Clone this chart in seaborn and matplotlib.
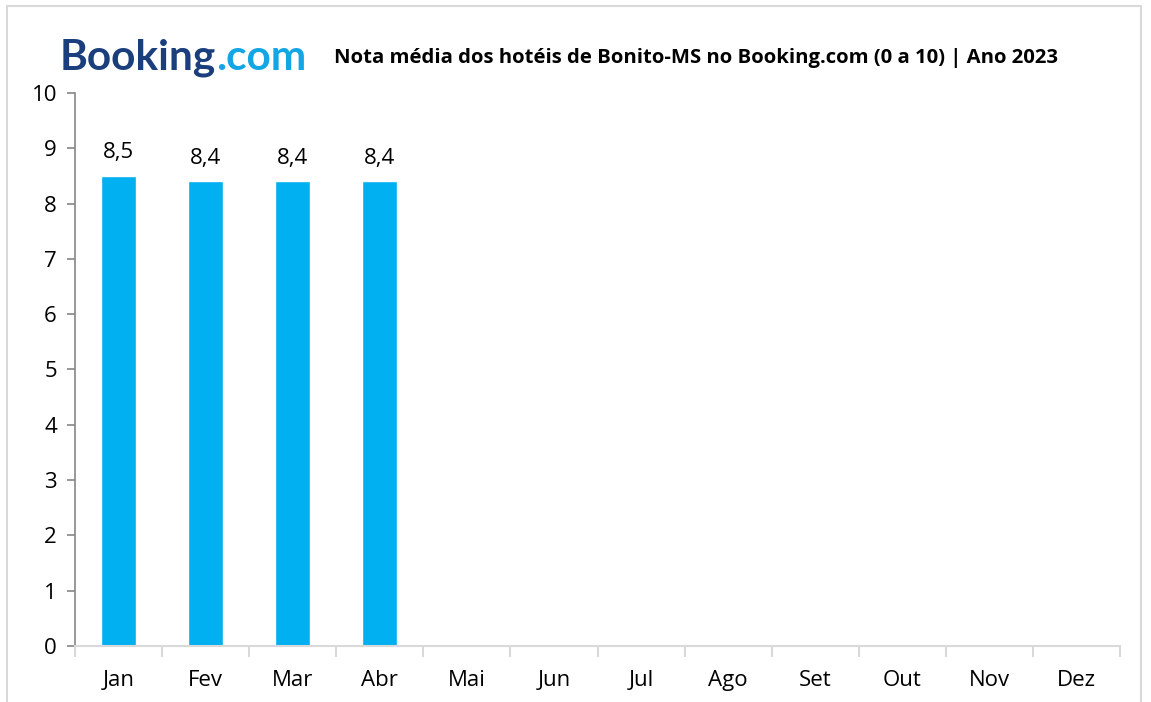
import seaborn as sns
import pandas as pd
import matplotlib.pyplot as plt
from matplotlib.patches import Rectangle

meses = ['Jan', 'Fev', 'Mar', 'Abr', 'Mai', 'Jun', 'Jul', 'Ago', 'Set', 'Out', 'Nov', 'Dez']
meses_com_nota = ['Jan', 'Fev', 'Mar', 'Abr']
notas = [8.5, 8.4, 8.4, 8.4]
titulo = 'Nota média dos hotéis de Bonito-MS no Booking.com (0 a 10) | Ano 2023'

df = pd.DataFrame({'Mes': meses_com_nota, 'Nota': notas})

sns.set_style('white')
plt.rcParams['font.family'] = ['Open Sans', 'DejaVu Sans']
plt.rcParams['text.color'] = 'black'
plt.rcParams['xtick.labelcolor'] = 'black'
plt.rcParams['ytick.labelcolor'] = 'black'

fig = plt.figure(figsize=(11.51, 7.02), dpi=100)
ax = fig.add_axes([0.0652, 0.0798, 0.9079, 0.7877])

sns.barplot(data=df, x='Mes', y='Nota', order=meses, color='#00B0F0',
            width=0.4, saturation=1, ax=ax)

# data labels
ax.bar_label(ax.containers[0], labels=[f'{v:.1f}'.replace('.', ',') for v in notas],
             padding=9, fontsize=16, color='black')

ax.set_ylim(0, 10)
ax.set_xlim(-0.5, 11.5)
ax.set_yticks(range(0, 11))
ax.set_xlabel('')
ax.set_ylabel('')

# axes style (Excel-like)
for s in ['top', 'right']:
    ax.spines[s].set_visible(False)
ax.spines['left'].set_color('#868686')
ax.spines['bottom'].set_color('#d9d9d9')
ax.spines['left'].set_linewidth(1.2)
ax.spines['bottom'].set_linewidth(1.5)
ax.tick_params(axis='y', length=6, width=1.2, color='#868686', labelsize=16,
               labelcolor='black', pad=7, left=True)
ax.tick_params(axis='x', which='major', length=0, labelsize=16, labelcolor='black', pad=17)
ax.set_xticks([i + 0.5 for i in range(-1, 12)], minor=True)
ax.tick_params(axis='x', which='minor', length=8, width=1.5, color='#d9d9d9', bottom=True)

# title
fig.text(0.2905, 0.918, titulo, fontsize=14.6, fontweight='bold', color='black',
         va='center', ha='left')

# logo text
t1 = fig.text(0.052, 0.918, 'Booking', fontsize=30.5, fontweight='bold',
              color='#1b3f7d', va='center', ha='left', family=['Lato', 'DejaVu Sans'])
ax.annotate('.com', xy=(1, 0), xycoords=t1, fontsize=30.5, fontweight='bold',
            color='#12a7e4', va='bottom', ha='left', annotation_clip=False,
            family=['Lato', 'DejaVu Sans'])

# border around figure
fig.add_artist(Rectangle((7 / 1151, -0.02), 1134 / 1151, 0.006 + 692 / 702 + 0.02,
                         transform=fig.transFigure, fill=False,
                         edgecolor='#d9d9d9', linewidth=1.5))

plt.savefig('out.png', dpi=100)
